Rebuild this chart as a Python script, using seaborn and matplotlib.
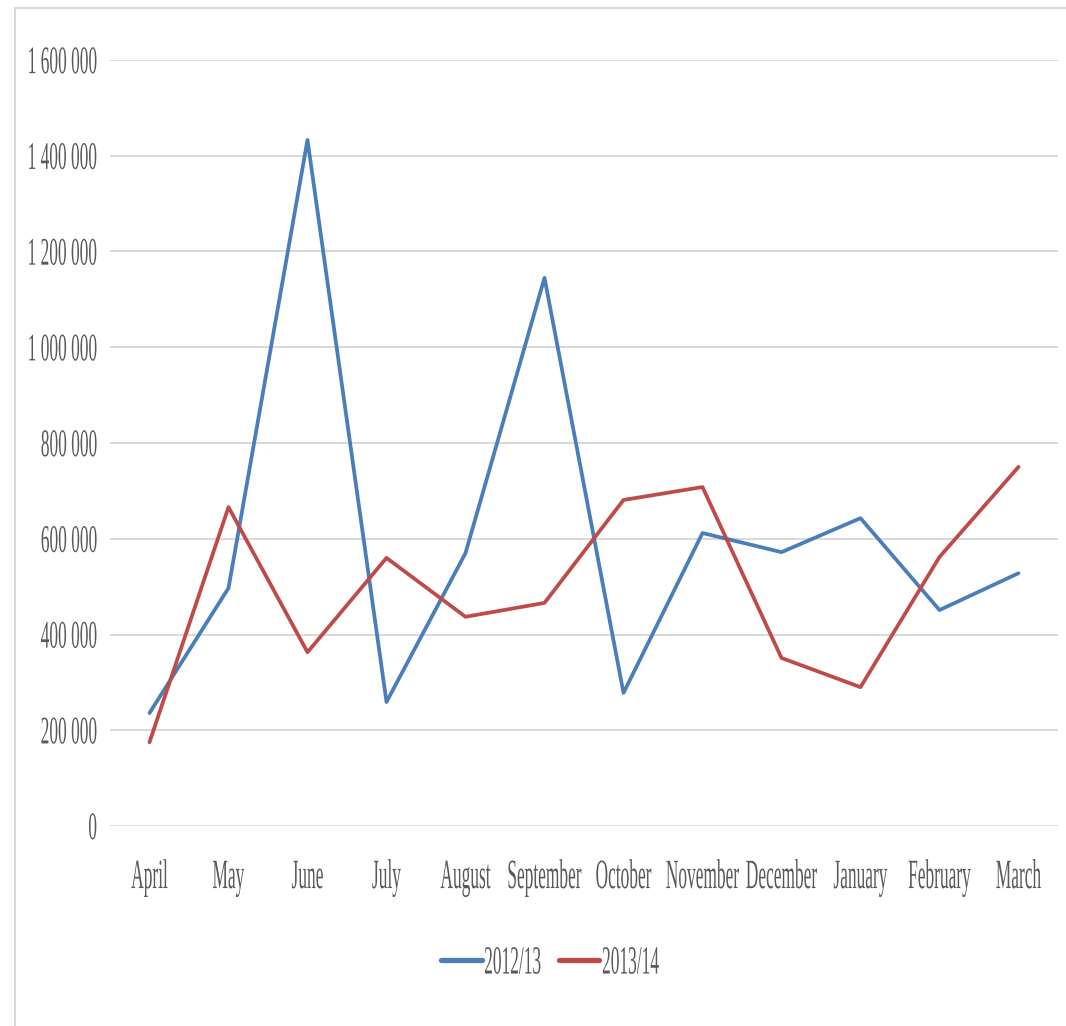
import matplotlib
matplotlib.use("Agg")
import matplotlib.pyplot as plt
from matplotlib.lines import Line2D
from matplotlib.patheffects import AbstractPathEffect
from matplotlib.ticker import FuncFormatter
from matplotlib.transforms import Affine2D
import pandas as pd
import seaborn as sns

# Monthly figures for two financial years
months = ["April", "May", "June", "July", "August", "September",
          "October", "November", "December", "January", "February", "March"]
values_2012_13 = [236000, 497000, 1433000, 259000, 570000, 1145000,
                  278000, 612000, 572000, 643000, 451000, 528000]
values_2013_14 = [175000, 666000, 363000, 560000, 437000, 466000,
                  681000, 708000, 351000, 290000, 562000, 750000]
series_names = ["2012/13", "2013/14"]
series_colors = ["#4A7EBB", "#BE4B48"]
y_ticks = [0, 200000, 400000, 600000, 800000, 1000000, 1200000, 1400000, 1600000]

df = pd.DataFrame({
    "Month": months * 2,
    "Value": values_2012_13 + values_2013_14,
    "Year": [series_names[0]] * len(months) + [series_names[1]] * len(months),
})


class TallGlyphs(AbstractPathEffect):
    """Stretch glyph outlines vertically around a given height (font units)."""

    def __init__(self, sy=2.3, anchor=33):
        super().__init__()
        self._sy = sy
        self._anchor = anchor

    def draw_path(self, renderer, gc, tpath, affine, rgbFace=None):
        stretch = (Affine2D().translate(0, -self._anchor)
                   .scale(1, self._sy).translate(0, self._anchor))
        renderer.draw_path(gc, tpath, stretch + affine, rgbFace)


sns.set_style("white")
plt.rcParams["font.family"] = ["Liberation Serif", "DejaVu Serif"]

W, H = 1066, 1026
fig = plt.figure(figsize=(W / 100, H / 100), dpi=100)
ax = fig.add_axes([110 / W, 1 - 826 / H, 948 / W, 766 / H])

sns.lineplot(data=df, x="Month", y="Value", hue="Year", palette=series_colors,
             sort=False, linewidth=2.7, ax=ax, legend=True)

ax.set_xlim(-0.5, len(months) - 0.5)
ax.set_ylim(0, 1600000)
ax.set_yticks(y_ticks)
ax.yaxis.set_major_formatter(FuncFormatter(lambda v, _: f"{v:,.0f}".replace(",", " ")))
ax.set_xlabel("")
ax.set_ylabel("")

ax.grid(axis="y", color="#d9d9d9", linewidth=1.4)
ax.grid(axis="x", visible=False)
ax.set_axisbelow(True)
for s in ax.spines.values():
    s.set_visible(False)

ax.tick_params(axis="y", length=0, pad=9.4, labelsize=12.5, labelcolor="#595959")
ax.tick_params(axis="x", length=0, pad=24.5, labelsize=12.5, labelcolor="#595959")

for lbl in ax.get_yticklabels():
    lbl.set_path_effects([TallGlyphs(2.25, 33)])
for lbl in ax.get_xticklabels():
    lbl.set_path_effects([TallGlyphs(2.4, 66)])

handles, labels = ax.get_legend_handles_labels()
ax.get_legend().remove()
leg = fig.legend(handles, labels, loc="center", ncol=2, frameon=False,
                 bbox_to_anchor=(550 / W, 1 - 962 / H), fontsize=12.5,
                 handlelength=2.35, handletextpad=0.15, columnspacing=1.0,
                 labelcolor="#595959")
for line in leg.get_lines():
    line.set_linewidth(3.8)
for t in leg.get_texts():
    t.set_path_effects([TallGlyphs(2.3, 33)])

# light frame around the chart area (top and left edges fall inside the image)
fig.add_artist(Line2D([15 / W, 1.0], [1 - 8 / H, 1 - 8 / H],
                      transform=fig.transFigure, color="#d9d9d9", linewidth=1.5))
fig.add_artist(Line2D([15 / W, 15 / W], [1 - 8 / H, 0.0],
                      transform=fig.transFigure, color="#d9d9d9", linewidth=1.5))

fig.savefig("out.png", dpi=100, facecolor="white")
